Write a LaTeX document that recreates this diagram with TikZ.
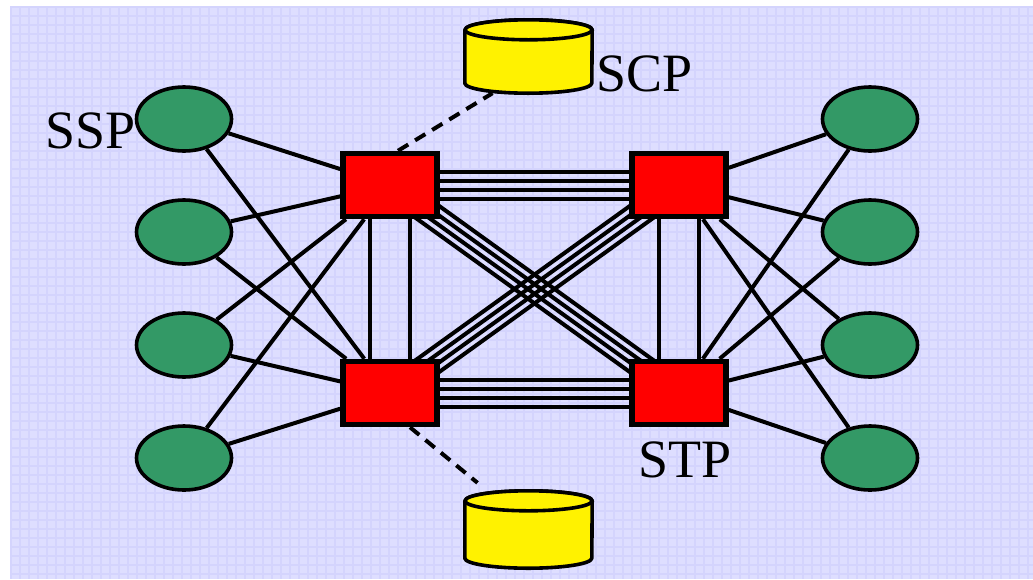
\documentclass[tikz,border=0pt]{standalone}
\usepackage{fontspec}
\setmainfont{Liberation Serif}
\usetikzlibrary{shapes.geometric,calc}
\pgfdeclarelayer{bg}
\pgfdeclarelayer{links}
\pgfsetlayers{bg,links,main}
\definecolor{bgcol}{RGB}{222,222,255}
\definecolor{gridcol}{RGB}{212,212,253}
\definecolor{sspgreen}{RGB}{51,153,102}
\begin{document}
\begin{tikzpicture}[x=1pt,y=-1pt,
  ssp/.style={ellipse,draw=black,line width=3.6pt,fill=sspgreen,minimum width=95pt,minimum height=64pt,inner sep=0pt},
  stp/.style={rectangle,draw=black,line width=5.5pt,fill=red,minimum width=94pt,minimum height=63pt,inner sep=0pt},
  cylbody/.style={rectangle,inner sep=0pt,minimum width=127pt},
  cyl/.style={draw=black,line width=3.6pt,fill=yellow,line join=round},
  link/.style={draw=black,line width=4pt},
  dashlink/.style={draw=black,line width=4pt,dash pattern=on 12pt off 8pt},
  gridline/.style={draw=gridcol,line width=2pt},
  lbl/.style={inner sep=0pt,font=\fontsize{54}{60}\selectfont,text=black}]
\useasboundingbox (0,0) rectangle (1033,579);
\begin{pgfonlayer}{bg}
  \fill[bgcol] (10,6) rectangle (1033,579);
  \foreach \i in {0,...,114}{
    \draw[gridline] ({11+9*\i},6) -- ({11+9*\i},579);
  }
  \foreach \j in {0,...,63}{
    \draw[gridline] (10,{7+9*\j}) -- (1033,{7+9*\j});
  }
\end{pgfonlayer}

% SSP nodes
\node[ssp] (L1) at (184,119) {};
\node[ssp] (L2) at (184,232) {};
\node[ssp] (L3) at (184,345) {};
\node[ssp] (L4) at (184,458) {};
\node[ssp] (R1) at (870,119) {};
\node[ssp] (R2) at (870,232) {};
\node[ssp] (R3) at (870,345) {};
\node[ssp] (R4) at (870,458) {};

% STP nodes
\node[stp] (A) at (390,185) {};
\node[stp] (B) at (679,185) {};
\node[stp] (C) at (390,393) {};
\node[stp] (D) at (679,393) {};

% SCP cylinders
\node[cylbody,minimum height=73pt] (scp1) at (528.5,56.5) {};
\node[cylbody,minimum height=77pt] (scp2) at (528.5,529.5) {};
\foreach \c in {scp1,scp2}{
  \path[cyl] ([yshift=-10pt]\c.north west) -- ([yshift=10pt]\c.south west)
    arc[start angle=180,end angle=360,x radius=63.5pt,y radius=10pt]
    -- ([yshift=-10pt]\c.north east)
    arc[start angle=0,end angle=180,x radius=63.5pt,y radius=10pt] -- cycle;
  \draw[cyl] ([yshift=-10pt]\c.north) ellipse[x radius=63.5pt,y radius=10pt];
}

\begin{pgfonlayer}{links}
  \foreach \s in {L1,L2,L3,L4}{
    \draw[link] (\s) -- (A);
    \draw[link] (\s) -- (C);
  }
  \foreach \s in {R1,R2,R3,R4}{
    \draw[link] (\s) -- (B);
    \draw[link] (\s) -- (D);
  }
  \foreach \o in {-13.5,-4.5,4.5,13.5}{
    \draw[link] ([yshift=\o pt]A.center) -- ([yshift=\o pt]B.center);
    \draw[link] ([yshift=\o pt]C.center) -- ([yshift=\o pt]D.center);
  }
  \foreach \o in {-20,20}{
    \draw[link] ([xshift=\o pt]A.center) -- ([xshift=\o pt]C.center);
    \draw[link] ([xshift=\o pt]B.center) -- ([xshift=\o pt]D.center);
  }
  \foreach \o/\a/\b in {3.9/90/-90,11.7/90/-90,3.9/-90/90,11.7/-90/90}{
    \draw[link] ($(A.center)!\o pt!\a:(D.center)$) -- ($(D.center)!\o pt!\b:(A.center)$);
    \draw[link] ($(B.center)!\o pt!\a:(C.center)$) -- ($(C.center)!\o pt!\b:(B.center)$);
  }
  \draw[dashlink] ([xshift=8pt]A.north) -- ([xshift=-36pt]scp1.south);
  \draw[dashlink] ([xshift=20pt]C.south) -- ([xshift=-51pt,yshift=8pt]scp2.north);
\end{pgfonlayer}

% labels
\node[lbl,anchor=base west] (sspl) at (45,148) {SSP};
\node[lbl,anchor=base west] (scpl) at (596,91) {SCP};
\node[lbl,anchor=base west] (stpl) at (638,477) {STP};
\end{tikzpicture}
\end{document}
